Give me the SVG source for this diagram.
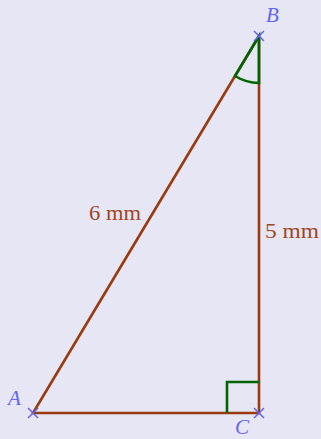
<svg xmlns="http://www.w3.org/2000/svg" width="321" height="439" viewBox="0 0 321 439">
<style>
.side{stroke:#993a0f;stroke-width:2.6;fill:none;stroke-linecap:round}
.mark{stroke:#006400;stroke-width:2.6;fill:none}
.pt{stroke:#6464e6;stroke-width:1.5;fill:none}
.vl{font-family:"Liberation Serif",serif;font-style:italic;font-size:21px;fill:#6464f0}
.ln{font-family:"Liberation Serif",serif;font-size:20px;fill:#a0461e}
</style>
<rect width="321" height="439" fill="#e6e6f5"/>
<g id="connectors">
<line class="side" x1="33" y1="413" x2="259" y2="413"/>
<line class="side" x1="259" y1="413" x2="259" y2="36"/>
<line class="side" x1="259" y1="36" x2="33" y2="413"/>
</g>
<g id="angleB">
<path class="mark" d="M259,36 L235,76 A47 47 0 0 0 259,83 Z"/>
</g>
<g id="angleC">
<path class="mark" d="M227,413 V382 H259"/>
</g>
<g id="A">
<path class="pt" d="M28,408 L38,418 M28,418 L38,408"/>
<text class="vl" x="8" y="405">A</text>
</g>
<g id="B">
<path class="pt" d="M254,31 L264,41 M254,41 L264,31"/>
<text class="vl" x="266" y="22">B</text>
</g>
<g id="C">
<path class="pt" d="M254,408 L264,418 M254,418 L264,408"/>
<text class="vl" x="235" y="434">C</text>
</g>
<g id="labels">
<text class="ln" x="89" y="220" textLength="52" lengthAdjust="spacingAndGlyphs">6 mm</text>
<text class="ln" x="265" y="238" textLength="54" lengthAdjust="spacingAndGlyphs">5 mm</text>
</g>
</svg>
